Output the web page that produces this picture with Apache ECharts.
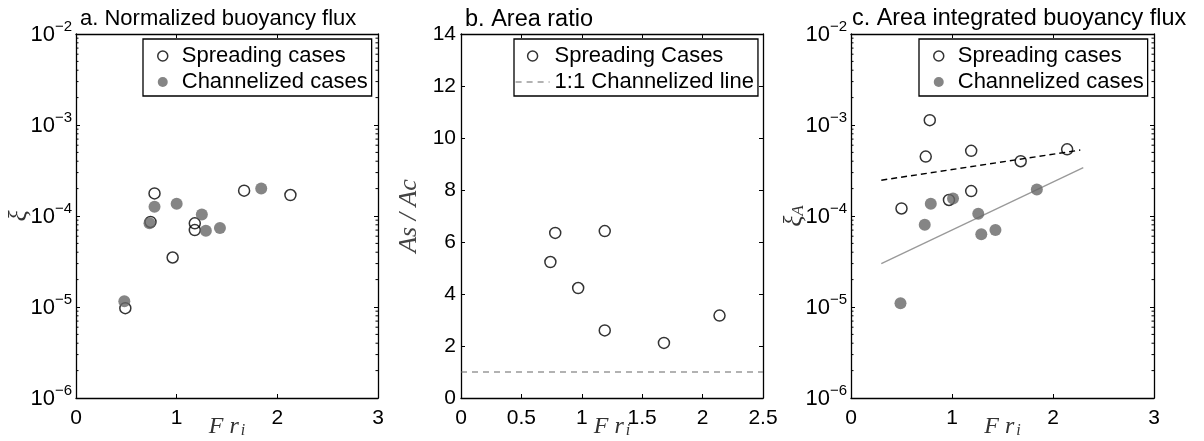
<!DOCTYPE html>
<html><head><meta charset="utf-8">
<script src="https://cdn.jsdelivr.net/npm/echarts@6/dist/echarts.min.js"></script>
<style>html,body{margin:0;padding:0;background:#fff}#c{width:1204px;height:441px}</style>
</head><body><div id="c"></div>
<script>
// ---- Panel a: normalized buoyancy flux ----
const aSpreadFr = [0.49, 0.74, 0.78, 0.96, 1.18, 1.18, 1.67, 2.13];
const aSpreadXi = [9.7e-6, 8.6e-5, 1.77e-4, 3.5e-5, 8.3e-5, 7.0e-5, 1.9e-4, 1.7e-4];
const aChanFr = [0.48, 0.73, 0.78, 1.00, 1.25, 1.29, 1.43, 1.84];
const aChanXi = [1.16e-5, 8.3e-5, 1.26e-4, 1.36e-4, 1.04e-4, 6.9e-5, 7.4e-5, 2.0e-4];
// ---- Panel b: area ratio ----
const bFr = [0.74, 0.78, 0.97, 1.19, 1.19, 1.68, 2.14];
const bRatio = [5.23, 6.35, 4.23, 6.42, 2.60, 2.12, 3.17];
const bLineFr = [0, 2.5];
const bLineVal = [1, 1];
// ---- Panel c: area integrated buoyancy flux ----
const cSpreadFr = [0.50, 0.74, 0.78, 0.97, 1.19, 1.19, 1.68, 2.14];
const cSpreadXi = [1.21e-4, 4.5e-4, 1.13e-3, 1.50e-4, 5.2e-4, 1.88e-4, 4.0e-4, 5.4e-4];
const cChanFr = [0.49, 0.73, 0.79, 1.01, 1.26, 1.29, 1.43, 1.84];
const cChanXi = [1.10e-5, 8.0e-5, 1.36e-4, 1.56e-4, 1.06e-4, 6.3e-5, 7.0e-5, 1.95e-4];
const cSpreadFitFr = [0.3, 2.27];
const cSpreadFitXi = [2.47e-4, 5.3e-4];
const cChanFitFr = [0.3, 2.3];
const cChanFitXi = [3.0e-5, 3.4e-4];
// ---- tick labels ----
const titles = ['a. Normalized buoyancy flux', 'b. Area ratio', 'c. Area integrated buoyancy flux'];
const logDecades = [-6, -5, -4, -3];
const minorMultiples = [2, 3, 4, 5, 6, 7, 8, 9];

const SANS = 'Liberation Sans';
const SERIF = 'Liberation Serif';
const zip = (a, b) => a.map((v, i) => [v, b[i]]);

const axisLine = { show: true, onZero: false, lineStyle: { color: '#000', width: 1.3 } };
const axisTick = { show: true, inside: true, length: 4, lineStyle: { color: '#000', width: 1 } };

function logLabel(v) {
  const e = Math.round(Math.log10(v));
  return '{b|10}{s|' + (e < 0 ? '\u2212' : '') + Math.abs(e) + '}';
}
const logRich = {
  b: { fontSize: 22, fontFamily: SANS, color: '#000', lineHeight: 24, verticalAlign: 'bottom' },
  s: { fontSize: 15, fontFamily: SANS, color: '#000', lineHeight: 15, padding: [0, 0, 12, 0], verticalAlign: 'bottom' }
};
const frName = {
  name: '{m|F r}{s|i}', nameLocation: 'middle', nameGap: 17, nameMoveOverlap: false,
  nameTextStyle: { rich: {
    m: { fontFamily: SERIF, fontStyle: 'italic', fontSize: 24, color: '#333', verticalAlign: 'bottom', lineHeight: 24 },
    s: { fontFamily: SERIF, fontStyle: 'italic', fontSize: 16, color: '#333', verticalAlign: 'bottom', lineHeight: 16, padding: [0, 0, 0, 2] }
  } }
};

function xPair(g, max, interval) {
  const base = { type: 'value', gridIndex: g, min: 0, max, interval, axisLine, axisTick, splitLine: { show: false } };
  return [
    Object.assign({}, base, frName, { position: 'bottom',
      axisLabel: { fontSize: 21, fontFamily: SANS, color: '#000', margin: 10 } }),
    Object.assign({}, base, { position: 'top', axisLabel: { show: false } })
  ];
}
function yLogPair(g, name) {
  const base = { type: 'log', logBase: 10, gridIndex: g, min: 1e-6, max: 1e-2, axisLine, axisTick, splitLine: { show: false }, minorTick: { show: false } };
  return [
    Object.assign({}, base, { position: 'left', name, nameLocation: 'middle', nameGap: 44, nameMoveOverlap: false,
      nameTextStyle: { rich: {
        m: { fontFamily: SERIF, fontStyle: 'italic', fontSize: 26, color: '#333', verticalAlign: 'bottom', lineHeight: 26 },
        s: { fontFamily: SERIF, fontStyle: 'italic', fontSize: 17, color: '#333', verticalAlign: 'bottom', lineHeight: 17 }
      } },
      axisLabel: { margin: 4, formatter: logLabel, rich: logRich } }),
    Object.assign({}, base, { position: 'right', axisLabel: { show: false } })
  ];
}
function yLinPair(g) {
  const base = { type: 'value', gridIndex: g, min: 0, max: 14, interval: 2, axisLine, axisTick, splitLine: { show: false } };
  return [
    Object.assign({}, base, { position: 'left', name: 'As / Ac', nameLocation: 'middle', nameGap: 39, nameMoveOverlap: false,
      nameTextStyle: { fontFamily: SERIF, fontStyle: 'italic', fontSize: 26, color: '#444' },
      axisLabel: { fontSize: 21, fontFamily: SANS, color: '#000', margin: 5 } }),
    Object.assign({}, base, { position: 'right', axisLabel: { show: false } })
  ];
}

function minorTicks(xi, yi) {
  const data = [];
  logDecades.forEach(e => minorMultiples.forEach(m => data.push([1, m * Math.pow(10, e)])));
  return {
    type: 'custom', xAxisIndex: xi, yAxisIndex: yi, silent: true, clip: false, z: 5, data,
    renderItem(params, api) {
      const y = api.coord([1, api.value(1)])[1];
      const cs = params.coordSys;
      const st = { stroke: '#000', lineWidth: 1 };
      return { type: 'group', children: [
        { type: 'line', shape: { x1: cs.x, y1: y, x2: cs.x + 2.5, y2: y }, style: st },
        { type: 'line', shape: { x1: cs.x + cs.width, y1: y, x2: cs.x + cs.width - 2.5, y2: y }, style: st }
      ] };
    }
  };
}

const openStyle = { color: 'rgba(255,255,255,0)', borderColor: '#000', borderWidth: 1.5 };
const fillStyle = { color: '#666' };
function scatter(name, xi, data, style, size, z) {
  return { type: 'scatter', name, xAxisIndex: xi, yAxisIndex: xi, data, symbol: 'circle', symbolSize: size, itemStyle: style, z, silent: true };
}

const legendBase = {
  orient: 'vertical', top: 39, padding: [6, 4, 3, 14], itemGap: 4, itemWidth: 28, itemHeight: 10,
  borderColor: '#000', borderWidth: 1.3, borderRadius: 0, backgroundColor: '#fff', selectedMode: false,
  textStyle: { fontSize: 22, fontFamily: SANS, color: '#000' }
};
const gridBase = { top: 34, height: 364, outerBoundsMode: 'none', containLabel: false };
const titleStyle = (fs) => ({ fontSize: fs, fontWeight: 'normal', fontFamily: SANS, color: '#000' });

const option = {
  animation: false,
  backgroundColor: '#fff',
  title: [
    { text: titles[0], left: 80, top: 8, padding: 0, textStyle: titleStyle(22) },
    { text: titles[1], left: 465, top: 8, padding: 0, textStyle: titleStyle(23.5) },
    { text: titles[2], left: 852, top: 7, padding: 0, textStyle: titleStyle(23.4) }
  ],
  legend: [
    Object.assign({}, legendBase, { left: 143, data: [
      { name: 'Spreading cases', icon: 'circle', itemStyle: openStyle },
      { name: 'Channelized cases', icon: 'circle', itemStyle: fillStyle } ] }),
    Object.assign({}, legendBase, { left: 514, itemWidth: 34, padding: [6, 4, 3, 1], data: [
      { name: 'Spreading Cases', icon: 'circle', itemStyle: openStyle },
      { name: '1:1 Channelized line', itemStyle: { color: 'rgba(0,0,0,0)', borderWidth: 0 },
        lineStyle: { color: '#666', width: 1.2, type: [6, 5] } } ] }),
    Object.assign({}, legendBase, { left: 919, data: [
      { name: 'Spreading cases', icon: 'circle', itemStyle: openStyle },
      { name: 'Channelized cases', icon: 'circle', itemStyle: fillStyle } ] })
  ],
  grid: [
    Object.assign({ left: 76, width: 302 }, gridBase),
    Object.assign({ left: 461, width: 302 }, gridBase),
    Object.assign({ left: 851, width: 303 }, gridBase)
  ],
  xAxis: [].concat(xPair(0, 3, 1), xPair(1, 2.5, 0.5), xPair(2, 3, 1)),
  yAxis: [].concat(yLogPair(0, '{m|ξ}'), yLinPair(1), yLogPair(2, '{m|ξ}{s|A}')),
  series: [
    scatter('Spreading cases', 0, zip(aSpreadFr, aSpreadXi), openStyle, 11, 3),
    scatter('Channelized cases', 0, zip(aChanFr, aChanXi), fillStyle, 12, 4),
    minorTicks(0, 0),
    scatter('Spreading Cases', 2, zip(bFr, bRatio), openStyle, 11, 3),
    { type: 'line', name: '1:1 Channelized line', xAxisIndex: 2, yAxisIndex: 2, data: zip(bLineFr, bLineVal),
      symbol: 'none', silent: true, itemStyle: { color: '#666' }, lineStyle: { color: '#666', width: 1.2, type: [6, 5] } },
    scatter('Spreading cases', 4, zip(cSpreadFr, cSpreadXi), openStyle, 11, 3),
    scatter('Channelized cases', 4, zip(cChanFr, cChanXi), fillStyle, 12, 4),
    { type: 'line', name: 'spreadFit', xAxisIndex: 4, yAxisIndex: 4, data: zip(cSpreadFitFr, cSpreadFitXi),
      symbol: 'none', silent: true, z: 5, lineStyle: { color: '#000', width: 1.5, type: [6, 4] } },
    { type: 'line', name: 'chanFit', xAxisIndex: 4, yAxisIndex: 4, data: zip(cChanFitFr, cChanFitXi),
      symbol: 'none', silent: true, z: 2, lineStyle: { color: '#999', width: 1.3 } },
    minorTicks(4, 4)
  ]
};
echarts.init(document.getElementById('c'), null, { renderer: 'canvas' }).setOption(option);
</script>
</body></html>
